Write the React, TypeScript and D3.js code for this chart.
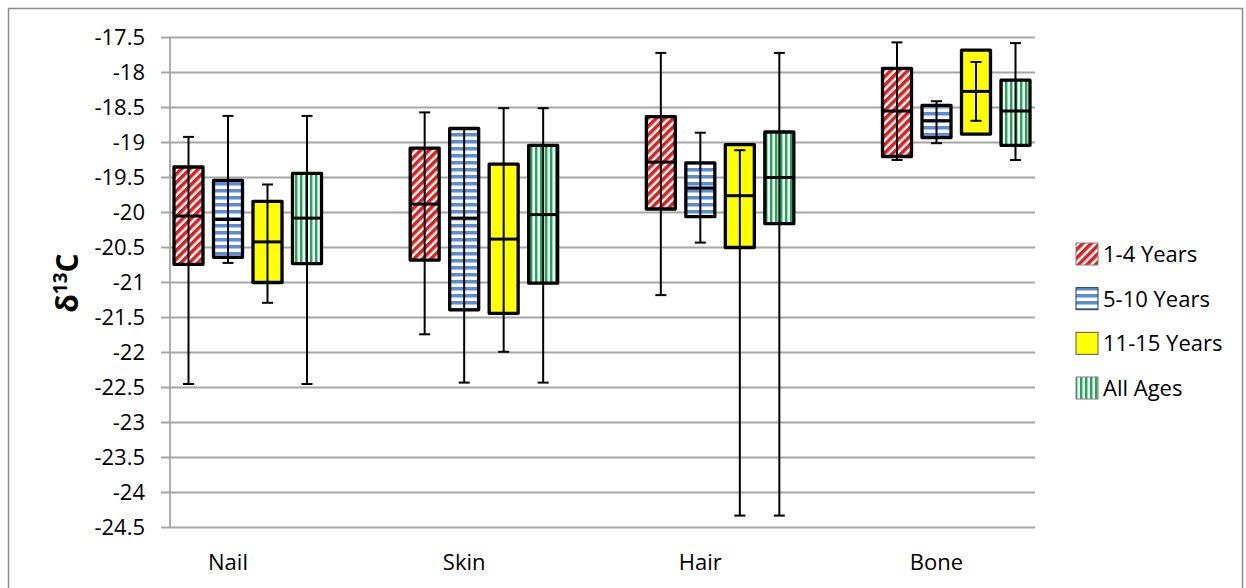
import React from 'react';
import * as d3 from 'd3';

const categories = ['Nail', 'Skin', 'Hair', 'Bone'];
const series = ['1-4 Years', '5-10 Years', '11-15 Years', 'All Ages'];
const yTicks = [-17.5, -18, -18.5, -19, -19.5, -20, -20.5, -21, -21.5, -22, -22.5, -23, -23.5, -24, -24.5];

// [series][category]
const lows = [
  [-22.45, -21.74, -21.18, -19.25],
  [-20.72, -22.43, -20.43, -19.01],
  [-21.29, -21.99, -24.33, -18.69],
  [-22.45, -22.43, -24.33, -19.25],
];
const q1s = [
  [-20.74, -20.68, -19.95, -19.2],
  [-20.64, -21.39, -20.06, -18.93],
  [-21.0, -21.44, -20.5, -18.88],
  [-20.73, -21.01, -20.16, -19.04],
];
const medians = [
  [-20.05, -19.88, -19.28, -18.55],
  [-20.1, -20.08, -19.65, -18.69],
  [-20.42, -20.38, -19.76, -18.27],
  [-20.08, -20.03, -19.5, -18.55],
];
const q3s = [
  [-19.35, -19.08, -18.63, -17.94],
  [-19.54, -18.8, -19.29, -18.47],
  [-19.84, -19.31, -19.03, -17.68],
  [-19.44, -19.04, -18.85, -18.11],
];
const highs = [
  [-18.92, -18.57, -17.72, -17.57],
  [-18.62, -18.8, -18.86, -18.41],
  [-19.6, -18.51, -19.11, -17.85],
  [-18.62, -18.51, -17.72, -17.58],
];

const fills = ['url(#pat-red)', 'url(#pat-blue)', '#ffff00', 'url(#pat-green)'];
const swatchStrokes = ['#7f7f7f', '#1f3864', '#595959', '#7f7f7f'];

const W = 1246;
const H = 588;
const plot = { left: 170, right: 1035, top: 37.5, bottom: 527.5 };
const font = '"Open Sans", "Noto Sans", sans-serif';

const App: React.FC = () => {
  const y = d3.scaleLinear().domain([-24.5, -17.5]).range([plot.bottom, plot.top]);
  const x = d3.scalePoint<string>().domain(categories).range([228, 936.5]);
  const offset = d3.scalePoint<string>().domain(series).range([-39.5, 79]);
  const legendY = d3.scalePoint<string>().domain(series).range([254, 388]);
  const boxW = 29;
  const capW = 11;

  return (
    <div style={{ position: 'fixed', left: 0, top: 0 }}>
      <svg width={W} height={H} style={{ display: 'block', background: '#fff' }}>
        <defs>
          <pattern id="pat-red" width="6" height="6" patternUnits="userSpaceOnUse" patternTransform="rotate(45)">
            <rect width="6" height="6" fill="#ffffff" />
            <rect width="3.6" height="6" fill="#d42424" />
          </pattern>
          <pattern id="pat-blue" width="8" height="7" patternUnits="userSpaceOnUse">
            <rect width="8" height="7" fill="#ffffff" />
            <rect y="0" width="8" height="3" fill="#5b8dd3" />
            <rect y="3" width="8" height="1" fill="#a9c4ea" />
          </pattern>
          <pattern id="pat-green" width="5" height="8" patternUnits="userSpaceOnUse">
            <rect width="5" height="8" fill="#ffffff" />
            <rect x="0" width="2" height="8" fill="#1fa85a" />
            <rect x="2" width="1" height="8" fill="#8fdcaa" />
          </pattern>
        </defs>

        {/* outer frame */}
        <rect x={8.5} y={8.5} width={1234} height={600} fill="none" stroke="#8c8c8c" strokeWidth={1.5} />

        {/* grid + ticks */}
        {yTicks.map(t => (
          <g key={t}>
            <line x1={161} x2={plot.right} y1={y(t)} y2={y(t)} stroke="#a6a6a6" strokeWidth={1.8} />
            <text x={145} y={y(t)} dy="0.36em" textAnchor="end" fontFamily={font} fontSize={22} fill="#000">
              {t}
            </text>
          </g>
        ))}
        <line x1={plot.left} x2={plot.left} y1={plot.top} y2={plot.bottom} stroke="#a6a6a6" strokeWidth={1.8} />

        {/* category labels */}
        {categories.map(c => (
          <text key={c} x={x(c)} y={570} textAnchor="middle" fontFamily={font} fontSize={22} fill="#000">
            {c}
          </text>
        ))}

        {/* boxes */}
        {series.map((s, si) => (
          <g key={s}>
            {categories.map((c, ci) => {
              const cx = (x(c) || 0) + (offset(s) || 0);
              const top = y(q3s[si][ci]);
              const bot = y(q1s[si][ci]);
              const yMed = y(medians[si][ci]);
              const yLo = y(lows[si][ci]);
              const yHi = y(highs[si][ci]);
              return (
                <g key={c}>
                  <rect
                    x={cx - boxW / 2}
                    y={Math.min(top, bot)}
                    width={boxW}
                    height={Math.abs(bot - top)}
                    fill={fills[si]}
                    stroke="#000"
                    strokeWidth={3.3}
                    strokeLinejoin="round"
                  />
                  <line x1={cx - boxW / 2} x2={cx + boxW / 2} y1={yMed} y2={yMed} stroke="#000" strokeWidth={3} />
                  <line x1={cx} x2={cx} y1={yLo} y2={yHi} stroke="#000" strokeWidth={2} />
                  <line x1={cx - capW / 2} x2={cx + capW / 2} y1={yLo} y2={yLo} stroke="#000" strokeWidth={2} />
                  <line x1={cx - capW / 2} x2={cx + capW / 2} y1={yHi} y2={yHi} stroke="#000" strokeWidth={2} />
                </g>
              );
            })}
          </g>
        ))}

        {/* y axis title */}
        <text
          transform="translate(78,283) rotate(-90)"
          textAnchor="middle"
          fontFamily={font}
          fontWeight="bold"
          fontSize={30}
          fill="#000"
        >
          δ<tspan fontSize={19} dy={-11}>13</tspan>
          <tspan dy={11}>C</tspan>
        </text>

        {/* legend */}
        {series.map((s, si) => {
          const ly = legendY(s) || 0;
          return (
            <g key={s}>
              <rect x={1076} y={ly - 11} width={22} height={22} fill={fills[si]} stroke={swatchStrokes[si]} strokeWidth={1} />
              <text x={1103} y={ly} dy="0.36em" fontFamily={font} fontSize={22} fill="#000">
                {s}
              </text>
            </g>
          );
        })}
      </svg>
    </div>
  );
};

export default App;
